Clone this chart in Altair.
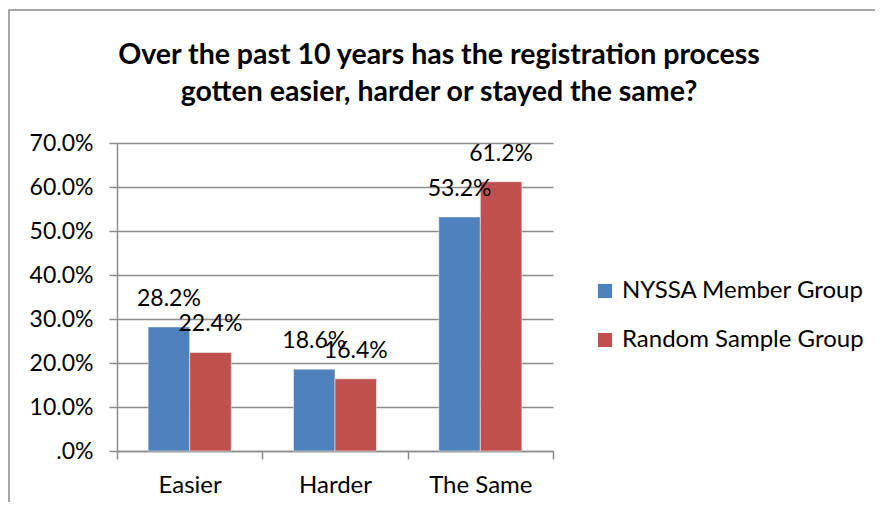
import altair as alt
import pandas as pd

categories = ["Easier", "Harder", "The Same"]
series = ["NYSSA Member Group", "Random Sample Group"]
nyssa = [28.2, 18.6, 53.2]
random_sample = [22.4, 16.4, 61.2]
y_ticks = [0, 10, 20, 30, 40, 50, 60, 70]
colors = ["#4F81BD", "#C0504D"]
title_lines = ["Over the past 10 years has the registration process",
               "gotten easier, harder or stayed the same?"]

rows = []
for c, a, b in zip(categories, nyssa, random_sample):
    rows.append({"cat": c, "group": series[0], "val": a})
    rows.append({"cat": c, "group": series[1], "val": b})
df = pd.DataFrame(rows)
df["label"] = df["val"].map(lambda v: f"{v:.1f}%")

FONT = "Lato"
GRAY = "#8c8c8c"
FS = 23

x_enc = alt.X("cat:N", sort=categories, title=None,
              scale=alt.Scale(paddingInner=0, paddingOuter=0),
              axis=alt.Axis(labelAngle=0, tickBand="extent", labelFontSize=24,
                            labelFont=FONT, labelColor="black", domainColor=GRAY,
                            tickColor=GRAY, tickSize=8, labelPadding=14, grid=False,
                            domainWidth=1.5, tickWidth=1.5))
xoff = alt.XOffset("group:N", sort=series,
                   scale=alt.Scale(paddingOuter=0.75, paddingInner=0))
y_enc = alt.Y("val:Q", title=None,
              scale=alt.Scale(domain=[0, 70], nice=False),
              axis=alt.Axis(values=y_ticks, labelFontSize=FS, labelFont=FONT,
                            labelColor="black", domainColor=GRAY, tickColor=GRAY,
                            gridColor=GRAY, gridWidth=1.5, domainWidth=1.5, tickWidth=1.5,
                            tickSize=8, labelPadding=16,
                            labelExpr="datum.value == 0 ? '.0%' : format(datum.value, '.1f') + '%'"))
color_enc = alt.Color("group:N", sort=series, title=None,
                      scale=alt.Scale(domain=series, range=colors),
                      legend=alt.Legend(orient="none", legendX=476, legendY=136,
                                        labelFontSize=24, labelFont=FONT, labelColor="black",
                                        labelLimit=0,
                                        symbolType="square", symbolSize=200,
                                        symbolStrokeWidth=0, rowPadding=25,
                                        labelOffset=5))

bars = alt.Chart(df).mark_bar(stroke="white", strokeWidth=0.5).encode(
    x=x_enc, xOffset=xoff, y=y_enc, color=color_enc)

labels = alt.Chart(df).mark_text(fontSize=FS, font=FONT, color="black",
                                 baseline="bottom", dy=-16).encode(
    x=alt.X("cat:N", sort=categories), xOffset=xoff, y="val:Q", text="label:N")

border = alt.Chart(pd.DataFrame({"a": [0]})).mark_rect(
    fill=None, stroke="#8a8a8a", strokeWidth=1.5).encode(
    x=alt.value(-108), x2=alt.value(800), y=alt.value(-133), y2=alt.value(600))

title = alt.Chart(pd.DataFrame({"t": [title_lines]})).mark_text(
    font=FONT, fontSize=28.5, fontWeight="bold", color="black",
    align="center", baseline="alphabetic", lineHeight=37).encode(
    x=alt.value(322), y=alt.value(-79), text="t")

chart = alt.layer(border, bars, labels, title).properties(
    width=436, height=308,
    autosize=alt.AutoSizeParams(type="none"),
    padding={"left": 109, "top": 135, "right": 322, "bottom": 51},
).configure_view(stroke=None)

chart.save("out.html", embed_options={"renderer": "svg", "actions": False})
